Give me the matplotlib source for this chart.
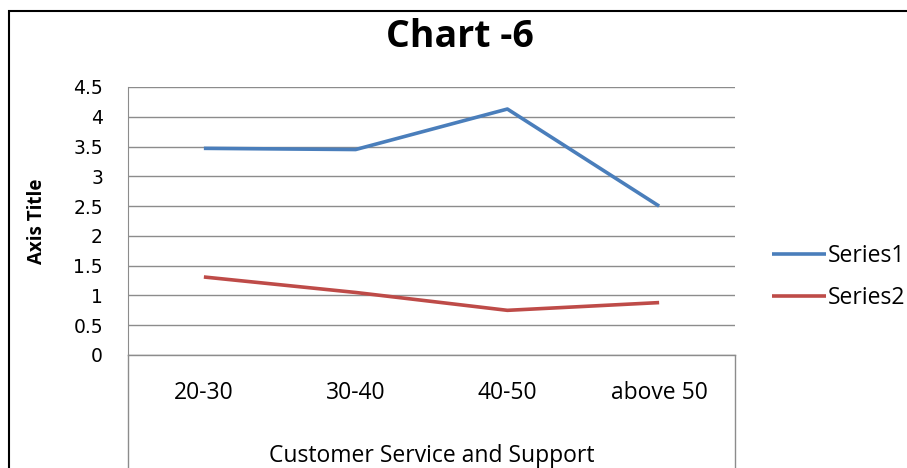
import matplotlib
matplotlib.use("Agg")
import matplotlib.pyplot as plt
from matplotlib.patches import Rectangle

plt.rcParams['font.family'] = ['Open Sans', 'DejaVu Sans']

categories = ["20-30", "30-40", "40-50", "above 50"]
series1 = [3.47, 3.45, 4.13, 2.5]
series2 = [1.31, 1.05, 0.75, 0.88]
yticks = [0, 0.5, 1, 1.5, 2, 2.5, 3, 3.5, 4, 4.5]

W, H = 907, 468
fig = plt.figure(figsize=(W / 100, H / 100), dpi=100)

# outer chart frame (runs off the right and bottom edges)
fig.patches.append(Rectangle((9 / W, -0.1), 1.2, (H - 11) / H + 0.1,
                             transform=fig.transFigure, fill=False,
                             edgecolor="black", linewidth=1.5))

left, right, top, bottom = 128, 735, 87, 355
ax = fig.add_axes([left / W, 1 - bottom / H, (right - left) / W, (bottom - top) / H])

# box under the plot that holds the category labels
box = fig.add_axes([left / W, -0.1, (right - left) / W, 1 - bottom / H + 0.1])
box.set_xticks([])
box.set_yticks([])
box.patch.set_alpha(0)
for s in ["left", "right", "top"]:
    box.spines[s].set_color("#8c8c8c")
    box.spines[s].set_linewidth(1)
box.spines["bottom"].set_visible(False)

x = [i + 0.5 for i in range(len(categories))]
ax.plot(x, series1, color="#4A7EBB", linewidth=2.6, label="Series1", solid_capstyle="butt")
ax.plot(x, series2, color="#BE4B48", linewidth=2.6, label="Series2", solid_capstyle="butt")

ax.set_xlim(0, 4)
ax.set_ylim(0, 4.5)
ax.set_yticks(yticks)
ax.set_yticklabels([f"{v:g}" for v in yticks], fontsize=13.5, family="DejaVu Sans")
ax.set_xticks(x)
ax.set_xticklabels(categories, fontsize=16.5)
ax.tick_params(axis="y", length=0, pad=18, colors="black")
ax.tick_params(axis="x", length=0, pad=19)
ax.yaxis.grid(True, color="#8c8c8c", linewidth=1)
ax.set_axisbelow(True)
for s in ["top", "right", "bottom"]:
    ax.spines[s].set_visible(False)
ax.spines["left"].set_color("#8c8c8c")

ax.set_xlabel("Customer Service and Support", fontsize=16.5, va="baseline")
ax.xaxis.set_label_coords(0.5, -(462 - bottom) / (bottom - top))
ax.set_ylabel("Axis Title", fontsize=13.5, fontweight="bold", va="center")
ax.yaxis.set_label_coords(-(left - 37) / (right - left), 0.5)

fig.text(460 / W, 1 - 47 / H, "Chart -6", fontsize=27, fontweight="bold",
         ha="center", va="baseline")

ax.legend(loc="center left", bbox_to_anchor=(772 / W, 1 - 277 / H),
          bbox_transform=fig.transFigure, frameon=False, borderpad=0,
          borderaxespad=0, fontsize=16.5, handlelength=2.35,
          handletextpad=0.1, labelspacing=0.75)

fig.savefig("out.png", dpi=100)
